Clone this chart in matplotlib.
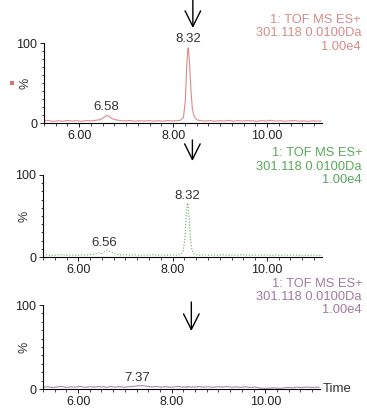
import numpy as np
import matplotlib
matplotlib.use("Agg")
import matplotlib.pyplot as plt
import matplotlib.transforms as mtransforms
from matplotlib.patches import Rectangle
from matplotlib.ticker import MultipleLocator

plt.rcParams['font.family'] = ['Liberation Sans', 'DejaVu Sans']

# retention time grid (min)
t = [5.25, 5.35, 5.45, 5.55, 5.65, 5.75, 5.85, 5.95, 6.05, 6.15, 6.25, 6.35,
     6.45, 6.50, 6.55, 6.60, 6.65, 6.70, 6.78, 6.88, 6.98, 7.08, 7.18, 7.28,
     7.38, 7.48, 7.58, 7.68, 7.78, 7.88, 7.98, 8.08, 8.16, 8.22, 8.26, 8.29,
     8.31, 8.32, 8.33, 8.35, 8.38, 8.41, 8.45, 8.50, 8.58, 8.68, 8.78, 8.88,
     8.98, 9.08, 9.18, 9.28, 9.38, 9.48, 9.58, 9.68, 9.78, 9.88, 9.98, 10.08,
     10.18, 10.28, 10.38, 10.48, 10.58, 10.68, 10.78, 10.88, 10.98, 11.08, 11.15]

# relative intensity (%)
red = [2.5, 3.0, 2.0, 2.8, 2.2, 3.2, 2.4, 2.9, 2.1, 3.0, 2.6, 3.4,
       4.2, 6.0, 8.0, 9.5, 7.5, 5.5, 4.0, 3.0, 2.6, 3.2, 2.2, 2.8,
       2.4, 3.0, 2.3, 2.9, 2.2, 3.1, 2.5, 2.8, 3.5, 7.0, 28.0, 72.0,
       90.0, 94.0, 91.0, 74.0, 40.0, 17.0, 8.0, 4.0, 3.0, 2.4, 3.0, 2.2,
       2.8, 2.5, 3.2, 2.3, 2.9, 2.4, 3.0, 2.6, 2.2, 2.9, 2.5, 3.3,
       2.4, 2.8, 2.2, 2.7, 3.0, 2.3, 2.6, 2.1, 2.7, 2.4, 2.5]

green = [2.0, 2.6, 1.8, 2.4, 2.9, 2.0, 2.5, 1.9, 2.7, 2.2, 3.0, 3.8,
         5.0, 4.2, 6.5, 8.0, 7.5, 6.0, 3.8, 2.5, 2.9, 2.2, 2.7, 2.0,
         2.6, 2.2, 2.9, 2.1, 2.5, 2.0, 2.7, 2.3, 2.8, 6.0, 22.0, 52.0,
         64.0, 66.0, 63.0, 48.0, 22.0, 9.0, 4.0, 2.8, 2.2, 2.7, 2.0, 2.5,
         2.2, 2.8, 1.9, 2.6, 2.1, 2.9, 2.3, 2.0, 2.6, 2.2, 2.7, 2.0,
         2.5, 1.9, 2.4, 2.1, 2.7, 2.0, 2.4, 1.8, 2.3, 2.1, 2.2]

purple = [2.0, 2.8, 1.6, 2.5, 3.0, 1.8, 2.6, 2.2, 3.0, 1.9, 2.7, 2.3,
          3.0, 2.2, 2.8, 1.9, 2.6, 3.1, 2.2, 2.9, 2.0, 2.8, 3.0, 3.8,
          4.0, 3.2, 2.4, 3.1, 2.2, 2.8, 2.0, 2.7, 3.0, 2.2, 2.6, 1.9,
          2.4, 2.1, 2.8, 2.2, 3.0, 2.0, 2.6, 2.2, 2.9, 2.1, 2.7, 2.0,
          2.8, 2.3, 3.0, 2.1, 2.5, 2.0, 2.6, 1.8, 2.4, 1.2, 0.8, 1.0,
          1.4, 0.9, 1.1, 2.0, 1.4, 2.2, 1.6, 2.3, 1.9, 2.1, 2.0]

series = [red, green, purple]
colors = ['#de8a8a', '#5fae5f', '#a58aa5']
text_colors = ['#d98a8a', '#5aa85a', '#a07aa0']
styles = ['-', ':', '-']
peak_labels = [[(6.57, 20, '6.58'), (8.33, 105, '8.32')],
               [(6.55, 17, '6.56'), (8.32, 74, '8.32')],
               [(7.27, 13, '7.37')]]
header = ['1: TOF MS ES+', '301.118 0.0100Da', '1.00e4']

W, H = 367, 419
fig = plt.figure(figsize=(W / 100, H / 100), dpi=100)

# axes boxes in pixels: left, right, y of 0, y of 100
boxes = [(44, 322, 123, 43), (43, 322, 257, 175), (43, 320, 389, 305)]
arrows = [(8.42, 0, 28), (8.42, 140, 161), (8.42, 302, 331)]
header_y = [(20, 33, 47), (153, 167, 180), (284, 297, 310)]
header_x = [361, 362, 362]

for i, (l, r, y0, y1) in enumerate(boxes):
    ax = fig.add_axes([l / W, 1 - y0 / H, (r - l) / W, (y0 - y1) / H])
    ax.plot(t, series[i], color=colors[i], lw=0.8, ls=styles[i])
    ax.set_xlim(5.25, 11.17)
    ax.set_ylim(0, 100)
    for s in ['top', 'right']:
        ax.spines[s].set_visible(False)
    for s in ['left', 'bottom']:
        ax.spines[s].set_linewidth(0.8)
    ax.set_yticks([0, 100])
    ax.yaxis.set_minor_locator(MultipleLocator(10))
    ax.set_xticks([6, 8, 10])
    ax.set_xticklabels(['6.00', '8.00', '10.00'])
    ax.xaxis.set_minor_locator(MultipleLocator(0.25))
    ax.tick_params(axis='both', which='major', labelsize=9, length=3, width=0.7,
                   pad=2, colors='#222222')
    ax.tick_params(axis='both', which='minor', length=1.8, width=0.5)
    ax.set_ylabel('%', fontsize=9, color='#333333')
    ax.yaxis.set_label_coords(-0.045, 0.5)
    ax.patch.set_alpha(0)

    for x, y, s in peak_labels[i]:
        ax.text(x, y, s, fontsize=9.5, ha='center', va='center',
                color='#333333', clip_on=False)

    tr = mtransforms.blended_transform_factory(ax.transData, fig.transFigure)
    ax_x, top, bot = arrows[i]
    ax.annotate('', xy=(ax_x, 1 - bot / H), xytext=(ax_x, 1 - top / H),
                xycoords=tr, textcoords=tr,
                arrowprops=dict(arrowstyle='->,head_width=0.35,head_length=0.7',
                                lw=1.0, color='black', mutation_scale=16,
                                shrinkA=0, shrinkB=0))

    for yy, s in zip(header_y[i], header):
        fig.text(header_x[i] / W, 1 - yy / H, s, fontsize=9.3, ha='right',
                 va='center', color=text_colors[i])

    if i == 2:
        ax.text(1.01, 0, 'Time', transform=ax.transAxes, fontsize=9.5,
                ha='left', va='center', color='#333333')

# small marker square at left of first trace
fig.add_artist(Rectangle((10 / W, 1 - 85 / H), 4 / W, 4 / H,
                         transform=fig.transFigure, color='#e07070', lw=0))

fig.savefig('out.png', dpi=100)
